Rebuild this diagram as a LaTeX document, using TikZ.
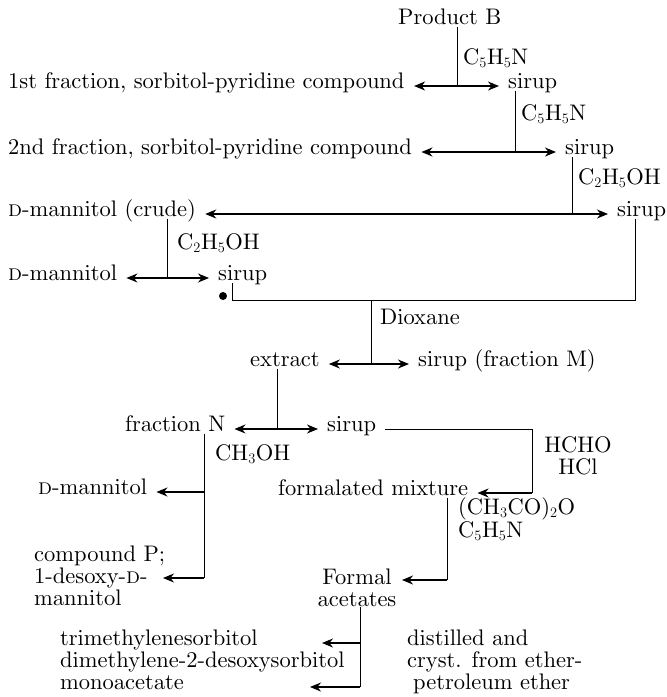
\documentclass[tikz,border=0pt]{standalone}
\usetikzlibrary{arrows.meta}
\font\chartfont=cmr10 at 22.5pt
\tikzset{
  every node/.style={inner sep=0pt,text height=1.6ex,text depth=.45ex},
  item/.style={anchor=west},
  stack/.style={text height=,text depth=},
  reag/.style={anchor=west,text height=1.45ex,text depth=.3ex},
  split/.style={line width=.7pt},
  link/.style={line width=.5pt},
  flow/.style={line width=1.2pt,-{Stealth[length=11pt,width=9pt,inset=3.5pt]},shorten >=9pt},
  tip/.style={flow,shorten >=0pt}
}
\begin{document}
\begin{tikzpicture}[x=1pt,y=-1pt,font=\fontsize{22.5}{22.5}\selectfont\chartfont]
\useasboundingbox (0,0) rectangle (667,697);
\node[item] (prodB) at (398,22) {Product B};
\node[item] (frac1) at (8,86) {1st fraction, sorbitol-pyridine compound};
\node[item] (sir1) at (508,86) {sirup};
\node[item] (frac2) at (8,152) {2nd fraction, sorbitol-pyridine compound};
\node[item] (sir2) at (565,152) {sirup};
\node[item] (crude) at (8,214) {\textsc{d}-mannitol (crude)};
\node[item] (sir3) at (617,214) {sirup};
\node[item] (mann1) at (8,278) {\textsc{d}-mannitol};
\node[item] (sir4) at (218,278) {sirup};
\node[item] (extr) at (250,364) {extract};
\node[item] (sirM) at (418,364) {sirup (fraction M)};
\node[item] (fracN) at (125,429) {fraction N};
\node[item] (sirN) at (327,429) {sirup};
\node[item] (mann2) at (38,492) {\textsc{d}-mannitol};
\node[item] (form) at (278,493) {formalated mixture};
\node[stack,anchor=west,align=left] (cmpP) at (34,576) {compound P;\\[-.5pt]1-desoxy-\textsc{d}-\\[-.5pt]mannitol};
\node[stack,anchor=north,align=center] (formal) at (357,569) {Formal\\[-.5pt]acetates};
\node[item] (tms) at (60,643) {trimethylenesorbitol};
\node[item] (dmd) at (60,665) {dimethylene-2-desoxysorbitol};
\node[item] (mac) at (60,687) {monoacetate};
\node[item] (dist) at (407,643) {distilled and};
\node[item] (cryst) at (407,665) {cryst. from ether-};
\node[item] (petr) at (413,687) {petroleum ether};
\node[reag] (pyr1) at (463,62) {C$_5$H$_5$N};
\node[reag] (pyr2) at (521,118) {C$_5$H$_5$N};
\node[reag] (eth1) at (578,182) {C$_2$H$_5$OH};
\node[reag] (eth2) at (177,247) {C$_2$H$_5$OH};
\node[reag] (diox) at (380,322) {Dioxane};
\node[reag] (meoh) at (215,458) {CH$_3$OH};
\node[reag,anchor=center] (hcho) at (578,450) {HCHO};
\node[reag,anchor=center] (hcl) at (578,472) {HCl};
\node[reag] (acan) at (458,512) {(CH$_3$CO)$_2$O};
\node[reag] (pyr3) at (458,535) {C$_5$H$_5$N};
\coordinate (j1) at (457,86);
\coordinate (j2) at (515,152);
\coordinate (j3) at (572,214);
\coordinate (j4) at (167,278);
\coordinate (k1) at (635,300);
\coordinate (k2) at (232,300);
\coordinate (blob) at (223,296);
\coordinate (j5) at (371,364);
\coordinate (j6) at (277,429);
\coordinate (k3) at (532,493);
\coordinate (k4) at (204,578);
\coordinate (k5) at (447,580);
\coordinate (k6) at (360,687);
\coordinate (t1) at (322,643);
\coordinate (t2) at (310,687);
\coordinate (t3) at (163,578);
\coordinate (t4) at (402,580);
\draw[split] (j1 |- prodB.south) -- (j1);
\draw[flow] (j1) -- (frac1.east);
\draw[flow] (j1) -- (sir1.west);
\draw[split] (j2 |- sir1.south) -- (j2);
\draw[flow] (j2) -- (frac2.east);
\draw[flow] (j2) -- (sir2.west);
\draw[split] (j3 |- sir2.south) -- (j3);
\draw[flow] (j3) -- (crude.east);
\draw[flow] (j3) -- (sir3.west);
\draw[split] (j4 |- crude.south) -- (j4);
\draw[flow] (j4) -- (mann1.east);
\draw[flow] (j4) -- (sir4.west);
\draw[split] (k1 |- sir3.south) -- (k1) -- (k2) -- (k2 |- sir4.south);
\fill (blob) circle (4pt);
\draw[split] (j5 |- k1) -- (j5);
\draw[flow] (j5) -- (extr.east);
\draw[flow] (j5) -- (sirM.west);
\draw[split] (j6 |- extr.south) -- (j6);
\draw[flow] (j6) -- (fracN.east);
\draw[flow] (j6) -- (sirN.west);
\draw[link,shorten <=9pt] (sirN.east) -| (k3);
\draw[flow] (k3) -- (form.east);
\draw[split] (k4 |- fracN.south) -- (k4);
\draw[flow] (k4 |- mann2) -- (mann2.east);
\draw[tip] (k4) -- (t3);
\draw[split] (k5 |- form.south) -- (k5);
\draw[tip] (k5) -- (t4);
\draw[split] (k6 |- formal.south) -- (k6);
\draw[tip] (k6 |- tms) -- (t1);
\draw[tip] (k6) -- (t2);
\end{tikzpicture}
\end{document}
